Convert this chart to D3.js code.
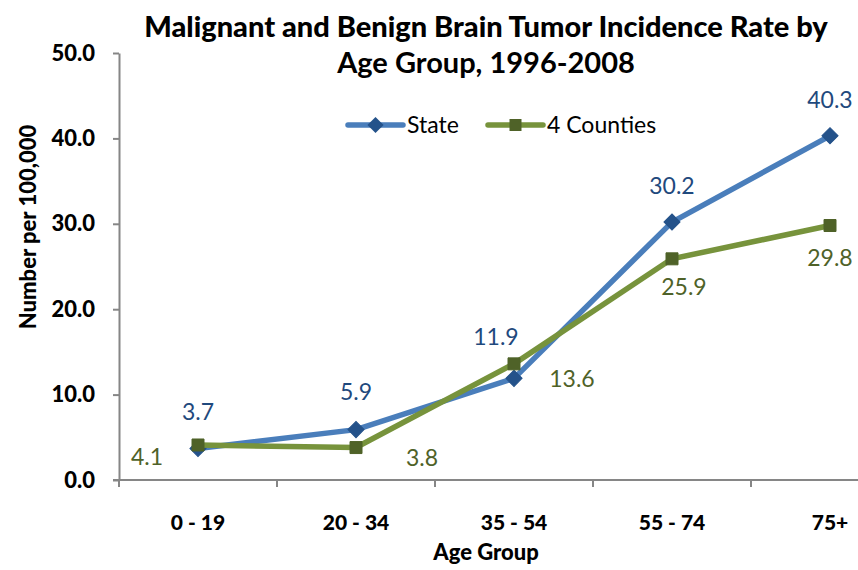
<!DOCTYPE html>
<html><head><meta charset="utf-8">
<script src="https://cdn.jsdelivr.net/npm/d3@7"></script>
<style>body{margin:0;background:#fff} svg{display:block}</style>
</head><body><svg id="c" width="858" height="570"></svg>
<script>
const categories = ["0 - 19","20 - 34","35 - 54","55 - 74","75+"];
const stateValues = [3.7,5.9,11.9,30.2,40.3];
const countyValues = [4.1,3.8,13.6,25.9,29.8];
const yTicks = [0,10,20,30,40,50];
const seriesNames = ["State","4 Counties"];
const titleLines = ["Malignant and Benign Brain Tumor Incidence Rate by","Age Group, 1996-2008"];
const xTitle = "Age Group";
const yTitle = "Number per 100,000";

// label placement (offsets from point, text baseline)
const stateLabelOffsets = [[0,-28],[0,-30],[-18,-33],[0,-28],[0,-28]];
const countyLabelOffsets = [[-51,20],[66,18],[58,23],[12,36],[0,40]];

const FONT = "Lato, 'Open Sans', sans-serif";
const svg = d3.select("#c");
const x = d3.scaleBand().domain(categories).range([119, 909]);
const y = d3.scaleLinear().domain([0,50]).range([480,53]);
const cx = c => x(c) + x.bandwidth()/2;

const stateColor = "#4A7EBB", stateMark = "#24528A", stateText = "#1F497D";
const cntColor = "#77933C", cntMark = "#4F6228", cntText = "#4F6228";
const axisColor = "#868686";

// title
svg.append("text").attr("x",486).attr("y",37).attr("text-anchor","middle")
  .attr("font-family",FONT).attr("font-weight",900).attr("font-size",29).attr("fill","#000")
  .text(titleLines[0]);
svg.append("text").attr("x",486).attr("y",73).attr("text-anchor","middle")
  .attr("font-family",FONT).attr("font-weight",700).attr("font-size",29).attr("fill","#000")
  .text(titleLines[1]);

// y axis
const gy = svg.append("g").attr("transform","translate(119,0)")
  .call(d3.axisLeft(y).tickValues(yTicks).tickFormat(d3.format(".1f")).tickSize(6).tickSizeOuter(0).tickPadding(18));
gy.select(".domain").attr("stroke",axisColor).attr("stroke-width",2);
gy.selectAll(".tick line").attr("stroke",axisColor).attr("stroke-width",2);
gy.selectAll(".tick text").attr("font-family",FONT).attr("font-weight",900).attr("font-size",22).attr("fill","#000");

// x axis
const gx = svg.append("g").attr("transform","translate(0,480)");
gx.append("line").attr("x1",113).attr("x2",858).attr("y1",0).attr("y2",0).attr("stroke",axisColor).attr("stroke-width",2);
gx.selectAll("line.t").data(categories).join("line").attr("class","t")
  .attr("x1",d=>x(d)).attr("x2",d=>x(d)).attr("y1",0).attr("y2",7)
  .attr("stroke",axisColor).attr("stroke-width",2);
gx.selectAll("text").data(categories).join("text")
  .attr("x",d=>cx(d)).attr("y",50).attr("text-anchor","middle")
  .attr("font-family",FONT).attr("font-weight",900).attr("font-size",21).attr("fill","#000")
  .text(d=>d);

// axis titles
svg.append("text").attr("x",486).attr("y",560).attr("text-anchor","middle")
  .attr("font-family",FONT).attr("font-weight",900).attr("font-size",22).text(xTitle);
svg.append("text").attr("transform","translate(36,227) rotate(-90)").attr("text-anchor","middle")
  .attr("font-family",FONT).attr("font-weight",900).attr("font-size",22).text(yTitle);

const line = d3.line().x((d,i)=>cx(categories[i])).y(d=>y(d));
const diamond = d3.symbol().type(d3.symbolSquare).size(130);
const square = d3.symbol().type(d3.symbolSquare).size(144);

function drawSeries(vals, color, mark, sym, rot){
  svg.append("path").datum(vals).attr("d",line).attr("fill","none")
    .attr("stroke",color).attr("stroke-width",5.5).attr("stroke-linejoin","round");
  svg.selectAll(null).data(vals).join("path")
    .attr("transform",(d,i)=>`translate(${cx(categories[i])},${y(d)}) rotate(${rot})`)
    .attr("d",sym).attr("fill",mark).attr("stroke",mark).attr("stroke-width",1);
}
drawSeries(stateValues, stateColor, stateMark, diamond, 45);
drawSeries(countyValues, cntColor, cntMark, square, 0);

function drawLabels(vals, offs, col){
  svg.selectAll(null).data(vals).join("text")
    .attr("x",(d,i)=>cx(categories[i])+offs[i][0]).attr("y",(d,i)=>y(d)+offs[i][1])
    .attr("text-anchor","middle").attr("font-family",FONT).attr("font-size",23).attr("fill",col)
    .text(d=>d3.format(".1f")(d));
}
drawLabels(stateValues, stateLabelOffsets, stateText);
drawLabels(countyValues, countyLabelOffsets, cntText);

// legend
const lg = svg.append("g").attr("transform","translate(0,125)");
const legendItems = [
  {name:seriesNames[0], x:348, color:stateColor, mark:stateMark, sym:diamond, rot:45},
  {name:seriesNames[1], x:488, color:cntColor, mark:cntMark, sym:square, rot:0}
];
legendItems.forEach(it=>{
  lg.append("line").attr("x1",it.x).attr("x2",it.x+55).attr("y1",0).attr("y2",0)
    .attr("stroke",it.color).attr("stroke-width",5.5).attr("stroke-linecap","round");
  lg.append("path").attr("d",it.sym).attr("transform",`translate(${it.x+27.5},0) rotate(${it.rot})`)
    .attr("fill",it.mark);
  lg.append("text").attr("x",it.x+59).attr("y",8).attr("font-family",FONT).attr("font-size",23)
    .attr("fill","#000").text(it.name);
});
</script></body></html>
